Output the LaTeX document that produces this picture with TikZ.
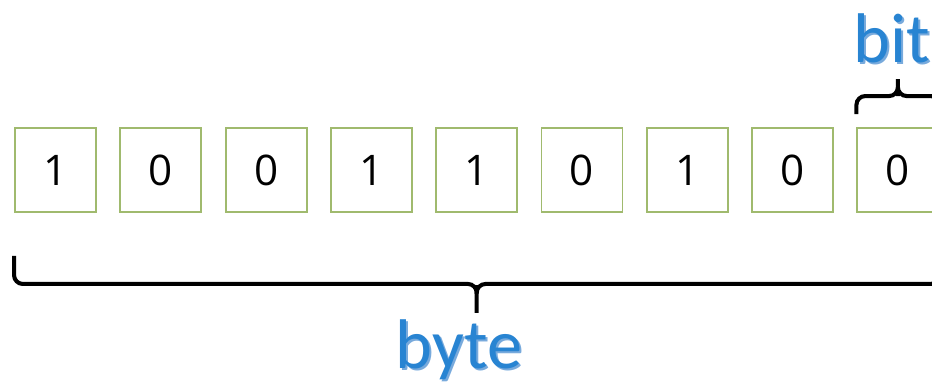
\documentclass[tikz,border=0pt]{standalone}
\usepackage{fontspec}
\setmainfont{Open Sans}
\newfontfamily\wordfont{Carlito}
\usetikzlibrary{positioning,calc}
\definecolor{bbGreen}{RGB}{160,186,110}
\definecolor{bbBlue}{RGB}{40,132,210}
\definecolor{bbShade}{RGB}{120,170,220}
\tikzset{
    bitbox/.style={rectangle, draw=bbGreen, line width=1.1pt, minimum width=1.62cm,
                   minimum height=1.68cm, inner sep=0pt, font=\fontsize{24}{28}\selectfont},
    brace/.style={draw=black, line width=2.3pt, rounded corners=5pt},
    word/.style={font=\wordfont\fontsize{40}{48}\selectfont, text=bbBlue, anchor=base, inner sep=0pt},
    wordshade/.style={word, text=bbShade}
}
\begin{document}
\begin{tikzpicture}[x=0.02cm, y=-0.02cm]
  \clip (0,0) rectangle (932,382);
  \useasboundingbox (0,0) rectangle (932,382);

  % bits of the byte
  \node[bitbox] (b1) at (55.5,170) {1};
  \node[bitbox] (b2) at (160.8,170) {0};
  \node[bitbox] (b3) at (266.1,170) {0};
  \node[bitbox] (b4) at (371.4,170) {1};
  \node[bitbox] (b5) at (476.7,170) {1};
  \node[bitbox] (b6) at (582,170) {0};
  \node[bitbox] (b7) at (687.3,170) {1};
  \node[bitbox] (b8) at (792.6,170) {0};
  \node[bitbox] (b9) at (897.9,170) {0};

  % brace under the byte
  \coordinate (byteL) at ($(b1.south west)+(0,43)$);
  \coordinate (byteR) at ($(b9.south east)+(0,43)$);
  \coordinate (byteTip) at ($(b5.south)+(0,100)$);
  \draw[brace] (byteL) -- ++(0,28) -| ($(byteTip)+(0,-19)$) -- (byteTip);
  \draw[brace] ($(byteTip)+(0,-19)$) |- ($(byteR)+(0,28)$) -- (byteR);

  % brace over one bit
  \coordinate (bitL) at ($(b9.north west)+(0,-13)$);
  \coordinate (bitR) at ($(b9.north east)+(0,-13)$);
  \coordinate (bitTip) at ($(b9.north)+(0,-48)$);
  \draw[brace] (bitL) -- ++(0,-18) -| ($(bitTip)+(0,17)$) -- (bitTip);
  \draw[brace] ($(bitTip)+(0,17)$) |- ($(bitR)+(0,-18)$) -- (bitR);

  % labels
  \node[wordshade] (bitS) at (894,64) {bit};
  \node[word] (bit) at (892,62) {bit};
  \node[wordshade] (byteS) at (461,370) {byte};
  \node[word] (byte) at (459,368) {byte};
\end{tikzpicture}
\end{document}
